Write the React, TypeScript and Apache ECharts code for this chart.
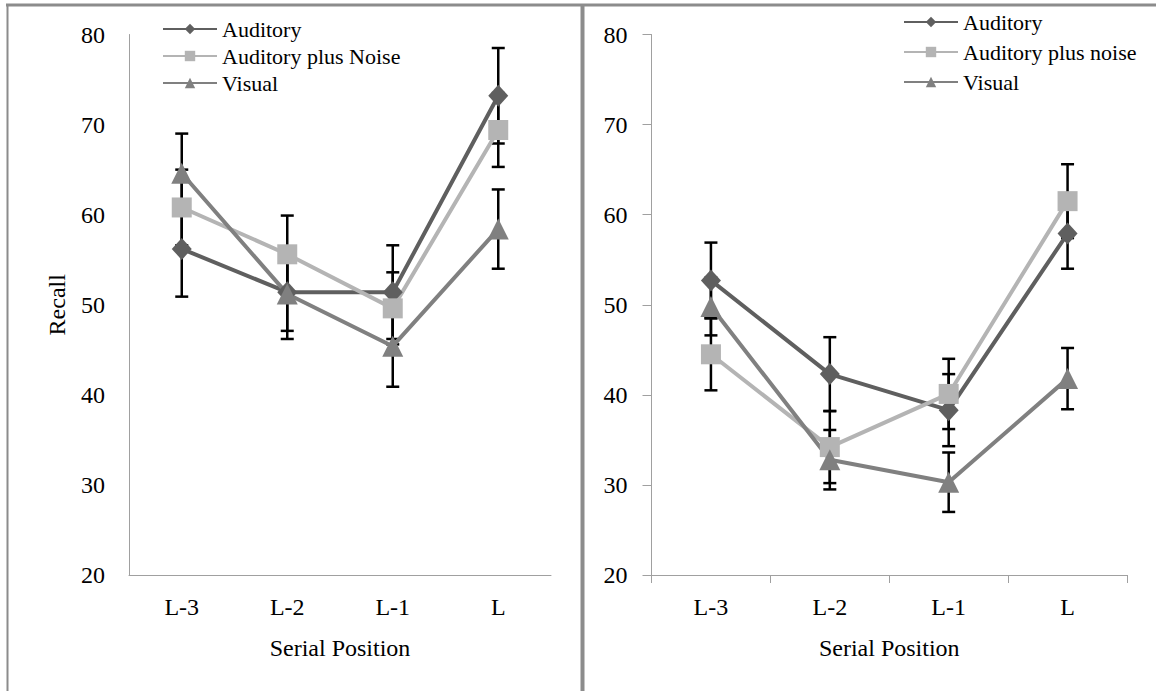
import React, { useEffect, useRef } from "react";
import * as echarts from "echarts";

const categories = ["L-3", "L-2", "L-1", "L"];
const yTicks = { min: 20, max: 80, interval: 10 };

const leftAuditory = [56.2, 51.4, 51.4, 73.2];
const leftAuditoryErr = [5.3, 4.3, 5.2, 5.3];
const leftNoise = [60.8, 55.6, 49.6, 69.4];
const leftNoiseErr = [4.2, 4.3, 4.0, 4.1];
const leftVisual = [64.6, 51.2, 45.4, 58.4];
const leftVisualErr = [4.4, 5.0, 4.5, 4.4];

const rightAuditory = [52.7, 42.3, 38.3, 57.9];
const rightAuditoryErr = [4.2, 4.1, 4.0, 3.9];
const rightNoise = [44.5, 34.2, 40.1, 61.5];
const rightNoiseErr = [4.0, 4.0, 3.9, 4.1];
const rightVisual = [49.8, 32.8, 30.3, 41.8];
const rightVisualErr = [3.2, 3.3, 3.3, 3.4];

const leftNames = ["Auditory", "Auditory plus Noise", "Visual"];
const rightNames = ["Auditory", "Auditory plus noise", "Visual"];

const colors = { aud: "#5f5f5f", noise: "#b4b4b4", vis: "#808080" };
const FONT = "Liberation Serif";

function errData(vals: number[], errs: number[]) {
  return vals.map((v, i) => [i, v - errs[i], v + errs[i]]);
}

export default function App() {
  const ref = useRef<HTMLDivElement>(null);
  useEffect(() => {
    if (!ref.current) return;
    const chart = echarts.init(ref.current, undefined, { renderer: "svg" });

    const renderErr = (params: any, api: any) => {
      const x = api.value(0);
      const pLo = api.coord([x, api.value(1)]);
      const pHi = api.coord([x, api.value(2)]);
      const half = 6.5;
      const style = { stroke: "#000", lineWidth: 2.5 };
      return {
        type: "group",
        children: [
          { type: "line", shape: { x1: pLo[0], y1: pLo[1], x2: pHi[0], y2: pHi[1] }, style },
          { type: "line", shape: { x1: pLo[0] - half, y1: pLo[1], x2: pLo[0] + half, y2: pLo[1] }, style },
          { type: "line", shape: { x1: pHi[0] - half, y1: pHi[1], x2: pHi[0] + half, y2: pHi[1] }, style },
        ],
      };
    };

    const errSeries = (idx: number, vals: number[], errs: number[]) => ({
      type: "custom",
      xAxisIndex: idx,
      yAxisIndex: idx,
      renderItem: renderErr,
      data: errData(vals, errs),
      encode: { x: 0, y: [1, 2] },
      z: 1,
      silent: true,
    });

    const lineSeries = (idx: number, name: string, data: number[], color: string, symbol: string, size: any) => ({
      type: "line",
      name,
      xAxisIndex: idx,
      yAxisIndex: idx,
      data,
      symbol,
      symbolSize: size,
      showAllSymbol: true,
      lineStyle: { color, width: 4 },
      itemStyle: { color },
      z: 3,
    });

    const xAxisBase = (idx: number, showTicks: boolean) => ({
      type: "category",
      gridIndex: idx,
      data: categories,
      boundaryGap: true,
      axisLine: { show: true, lineStyle: { color: "#a0a0a0", width: 1 } },
      axisTick: { show: showTicks, length: 8, lineStyle: { color: "#a0a0a0" } },
      axisLabel: { color: "#000", fontSize: 24, fontFamily: FONT, margin: 19.5 },
      name: "Serial Position",
      nameLocation: "middle",
      nameGap: 60.5,
      nameTextStyle: { color: "#000", fontSize: 24, fontFamily: FONT },
      splitLine: { show: false },
    });

    const yAxisBase = (idx: number, showTicks: boolean) => ({
      type: "value",
      gridIndex: idx,
      min: yTicks.min,
      max: yTicks.max,
      interval: yTicks.interval,
      axisLine: { show: true, lineStyle: { color: "#a0a0a0", width: 1 } },
      axisTick: { show: showTicks, length: 9, lineStyle: { color: "#a0a0a0" } },
      axisLabel: { color: "#000", fontSize: 24, fontFamily: FONT, margin: 24 },
      splitLine: { show: false },
    });

    const legendBase = {
      orient: "vertical",
      padding: 0,
      itemWidth: 54,
      itemHeight: 13,
      textStyle: { color: "#000", fontSize: 22, fontFamily: FONT },
      selectedMode: false,
    };

    chart.setOption({
      animation: false,
      textStyle: { fontFamily: FONT },
      grid: [
        { left: 129, right: 605, top: 34.5, bottom: 116 },
        { left: 651.5, right: 29, top: 34.5, bottom: 116 },
      ],
      xAxis: [xAxisBase(0, false), xAxisBase(1, true)],
      yAxis: [
        {
          ...yAxisBase(0, false),
          name: "Recall",
          nameLocation: "middle",
          nameGap: 60,
          nameTextStyle: { color: "#000", fontSize: 24, fontFamily: FONT },
        },
        yAxisBase(1, true),
      ],
      legend: [
        { ...legendBase, data: leftNames, left: 162, top: 18, itemGap: 5 },
        { ...legendBase, data: rightNames, left: 903, top: 11, itemGap: 8 },
      ],
      graphic: [
        { type: "line", shape: { x1: 6, y1: 5, x2: 1156, y2: 5 }, style: { stroke: "#8c8c8c", lineWidth: 3 }, z: 10 },
        { type: "line", shape: { x1: 7.5, y1: 4, x2: 7.5, y2: 691 }, style: { stroke: "#8c8c8c", lineWidth: 2 }, z: 10 },
        { type: "line", shape: { x1: 582.5, y1: 4, x2: 582.5, y2: 691 }, style: { stroke: "#8c8c8c", lineWidth: 4 }, z: 10 },
      ],
      series: [
        errSeries(0, leftAuditory, leftAuditoryErr),
        errSeries(0, leftNoise, leftNoiseErr),
        errSeries(0, leftVisual, leftVisualErr),
        errSeries(1, rightAuditory, rightAuditoryErr),
        errSeries(1, rightNoise, rightNoiseErr),
        errSeries(1, rightVisual, rightVisualErr),
        lineSeries(0, leftNames[0], leftAuditory, colors.aud, "diamond", [20, 22]),
        lineSeries(0, leftNames[1], leftNoise, colors.noise, "rect", 20),
        lineSeries(0, leftNames[2], leftVisual, colors.vis, "triangle", 21),
        lineSeries(1, rightNames[0], rightAuditory, colors.aud, "diamond", [20, 22]),
        lineSeries(1, rightNames[1], rightNoise, colors.noise, "rect", 20),
        lineSeries(1, rightNames[2], rightVisual, colors.vis, "triangle", 21),
      ],
    });
    return () => chart.dispose();
  }, []);

  return (
    <div
      ref={ref}
      style={{ position: "fixed", left: 0, top: 0, width: 1156, height: 691, background: "#fff" }}
    />
  );
}
